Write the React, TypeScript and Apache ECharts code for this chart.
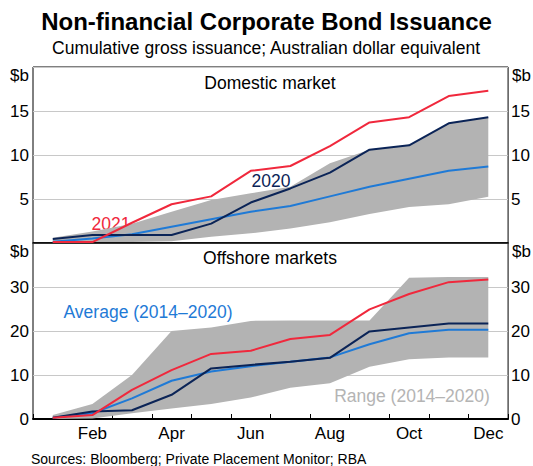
import React, { useEffect, useRef } from "react";
import * as echarts from "echarts";

const months = ["Jan", "Feb", "Mar", "Apr", "May", "Jun", "Jul", "Aug", "Sep", "Oct", "Nov", "Dec"];

// Domestic market ($b, cumulative)
const domestic2021 = [0.1, 0.1, 2.3, 4.4, 5.3, 8.2, 8.75, 11.0, 13.7, 14.3, 16.7, 17.3];
const domestic2020 = [0.45, 0.9, 0.9, 0.9, 2.2, 4.6, 6.2, 8.0, 10.6, 11.1, 13.6, 14.3];
const domesticAvg = [0.15, 0.5, 1.0, 1.85, 2.7, 3.55, 4.2, 5.3, 6.4, 7.3, 8.2, 8.7];
const domesticMax = [0.6, 1.3, 2.2, 3.55, 4.9, 5.65, 6.4, 9.05, 10.6, 11.1, 13.6, 14.3];
const domesticMin = [0.05, 0.1, 0.1, 0.2, 0.7, 1.1, 1.65, 2.35, 3.3, 4.1, 4.4, 5.25];

// Offshore markets ($b, cumulative)
const offshore2021 = [0.3, 0.9, 6.6, 11.1, 14.8, 15.5, 18.2, 19.1, 24.9, 28.4, 31.1, 31.7];
const offshore2020 = [0.3, 1.7, 2.0, 5.5, 11.5, 12.3, 13.0, 13.9, 19.9, 20.8, 21.7, 21.7];
const offshoreAvg = [0.3, 1.3, 4.7, 8.7, 10.8, 12.0, 13.0, 14.0, 17.0, 19.5, 20.3, 20.3];
const offshoreMax = [0.9, 3.4, 10.0, 20.0, 20.8, 22.3, 22.4, 22.4, 22.4, 32.1, 32.3, 32.3];
const offshoreMin = [0.0, 0.1, 1.3, 2.4, 3.4, 4.9, 7.1, 8.1, 11.9, 13.6, 14.0, 14.0];

const topTicks = [0, 5, 10, 15, 20];
const bottomTicks = [0, 10, 20, 30, 40];

const FONT = "'Liberation Sans', Arial, sans-serif";
const RED = "#f0283c";
const NAVY = "#0b2457";
const BLUE = "#1f7ad6";
const GREY = "#b3b3b3";

export default function App() {
  const ref = useRef<HTMLDivElement>(null);

  useEffect(() => {
    document.body.style.margin = "0";
    if (!ref.current) return;
    const chart = echarts.init(ref.current, null, { renderer: "svg" });

    const gridLeft = 33;
    const gridRight = 24;
    const topY = 67;
    const panelH = 176;

    const yAxisBase = (gridIndex: number, pos: "left" | "right", ticks: number[], showSplit: boolean) => ({
      type: "value",
      gridIndex,
      position: pos,
      min: ticks[0],
      max: ticks[ticks.length - 1],
      interval: ticks[1] - ticks[0],
      axisLine: { show: false },
      axisTick: { show: false },
      splitLine: { show: showSplit, lineStyle: { color: "#c8c8c8", width: 1 } },
      axisLabel: {
        color: "#000",
        fontSize: 17,
        fontFamily: FONT,
        margin: pos === "left" ? 4 : 3,
        formatter: (v: number) => {
          if (v === ticks[ticks.length - 1]) return "";
          if (gridIndex === 0 && v === 0) return "";
          return String(v);
        },
      },
    });

    const lineSeries = (name: string, xi: number, yi: number, data: number[], color: string) => ({
      name,
      type: "line",
      xAxisIndex: xi,
      yAxisIndex: yi,
      data,
      symbol: "none",
      silent: true,
      lineStyle: { color, width: 2 },
      z: 3,
    });

    const bandSeries = (stack: string, xi: number, yi: number, lo: number[], hi: number[]) => [
      {
        type: "line",
        xAxisIndex: xi,
        yAxisIndex: yi,
        stack,
        data: lo,
        symbol: "none",
        silent: true,
        lineStyle: { opacity: 0, width: 0 },
        z: 1,
      },
      {
        type: "line",
        xAxisIndex: xi,
        yAxisIndex: yi,
        stack,
        data: hi.map((h, i) => +(h - lo[i]).toFixed(3)),
        symbol: "none",
        silent: true,
        lineStyle: { opacity: 0, width: 0 },
        areaStyle: { color: GREY, opacity: 1 },
        z: 1,
      },
    ];

    const textStyle = (extra: any) => ({ fontFamily: FONT, ...extra });

    chart.setOption({
      animation: false,
      grid: [
        { left: gridLeft, right: gridRight, top: topY, height: panelH, show: true, borderColor: "#000", borderWidth: 1, backgroundColor: "transparent" },
        { left: gridLeft, right: gridRight, top: topY + panelH, height: panelH, show: true, borderColor: "#000", borderWidth: 1, backgroundColor: "transparent" },
      ],
      xAxis: [
        {
          type: "category",
          gridIndex: 0,
          data: months,
          boundaryGap: true,
          axisLine: { show: true, lineStyle: { color: "#000", width: 1.5 } },
          axisTick: { show: false },
          axisLabel: { show: false },
          splitLine: { show: false },
        },
        {
          type: "category",
          gridIndex: 1,
          data: months,
          boundaryGap: true,
          axisLine: { show: true, lineStyle: { color: "#000", width: 2 } },
          axisTick: { show: true, inside: true, length: 5, interval: 0, lineStyle: { color: "#000", width: 1 } },
          axisLabel: {
            color: "#000",
            fontSize: 17,
            fontFamily: FONT,
            margin: 6,
            interval: (i: number) => i % 2 === 1,
          },
          splitLine: { show: false },
        },
      ],
      yAxis: [
        yAxisBase(0, "left", topTicks, true),
        yAxisBase(0, "right", topTicks, false),
        yAxisBase(1, "left", bottomTicks, true),
        yAxisBase(1, "right", bottomTicks, false),
      ],
      series: [
        ...bandSeries("dom", 0, 0, domesticMin, domesticMax),
        lineSeries("Average (2014–2020)", 0, 0, domesticAvg, BLUE),
        lineSeries("2020", 0, 0, domestic2020, NAVY),
        lineSeries("2021", 0, 0, domestic2021, RED),
        ...bandSeries("off", 1, 2, offshoreMin, offshoreMax),
        lineSeries("Average (2014–2020) offshore", 1, 2, offshoreAvg, BLUE),
        lineSeries("2020 offshore", 1, 2, offshore2020, NAVY),
        lineSeries("2021 offshore", 1, 2, offshore2021, RED),
      ],
      graphic: [
        { type: "text", left: "center", top: 9, style: textStyle({ text: "Non-financial Corporate Bond Issuance", fontSize: 24, fontWeight: "bold", fill: "#000" }) },
        { type: "text", left: "center", top: 39, style: textStyle({ text: "Cumulative gross issuance; Australian dollar equivalent", fontSize: 17.5, fill: "#000" }) },
        { type: "text", x: 270, y: 83, style: textStyle({ text: "Domestic market", fontSize: 17.5, fill: "#000", align: "center", verticalAlign: "middle" }) },
        { type: "text", x: 270, y: 258, style: textStyle({ text: "Offshore markets", fontSize: 17.5, fill: "#000", align: "center", verticalAlign: "middle" }) },
        { type: "text", x: 111, y: 224, style: textStyle({ text: "2021", fontSize: 17.5, fill: RED, align: "center", verticalAlign: "middle" }) },
        { type: "text", x: 271, y: 181, style: textStyle({ text: "2020", fontSize: 17.5, fill: NAVY, align: "center", verticalAlign: "middle" }) },
        { type: "text", x: 148, y: 312, style: textStyle({ text: "Average (2014–2020)", fontSize: 17.5, fill: BLUE, align: "center", verticalAlign: "middle" }) },
        { type: "text", x: 412, y: 396, style: textStyle({ text: "Range (2014–2020)", fontSize: 17.5, fill: "#b4b4b4", align: "center", verticalAlign: "middle" }) },
        { type: "text", x: 29, y: 67, style: textStyle({ text: "$b", fontSize: 17, fill: "#000", align: "right", verticalAlign: "top" }) },
        { type: "text", x: 512, y: 67, style: textStyle({ text: "$b", fontSize: 17, fill: "#000", align: "left", verticalAlign: "top" }) },
        { type: "text", x: 29, y: 243, style: textStyle({ text: "$b", fontSize: 17, fill: "#000", align: "right", verticalAlign: "top" }) },
        { type: "text", x: 512, y: 243, style: textStyle({ text: "$b", fontSize: 17, fill: "#000", align: "left", verticalAlign: "top" }) },
        { type: "text", x: 31, y: 459, style: textStyle({ text: "Sources: Bloomberg; Private Placement Monitor; RBA", fontSize: 14, fill: "#000", align: "left", verticalAlign: "middle" }) },
      ],
    });

    return () => chart.dispose();
  }, []);

  return <div ref={ref} style={{ width: 533, height: 466, position: "absolute", left: 0, top: 0 }} />;
}
